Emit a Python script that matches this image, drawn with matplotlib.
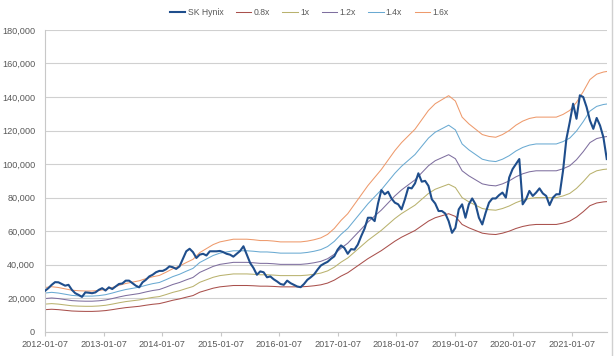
import matplotlib
matplotlib.use("Agg")
import matplotlib.pyplot as plt
from matplotlib.lines import Line2D
import numpy as np
import pandas as pd

plt.rcParams["font.family"] = ["Liberation Sans", "DejaVu Sans"]

# SK Hynix weekly close, sampled every 3 weeks from 2012-01-07 (KRW)
price_start = "2012-01-07"
price = [
    24400, 26000, 28000, 29600, 29500, 28500, 27500, 28000, 25000, 23000,
    22000, 20800, 23500, 23300, 23000, 23500, 25000, 26000, 24600, 26500,
    25500, 27000, 28500, 28800, 30500, 30500, 29000, 27500, 26500, 29500,
    31000, 33000, 34000, 35500, 36300, 36300, 37300, 39000, 38500, 37500,
    39000, 43500, 48000, 49500, 47500, 44000, 46000, 46500, 45500, 48000,
    48000, 48000, 48200, 47500, 46500, 46000, 44800, 46500, 48200, 51000,
    46000, 41000, 38000, 34000, 36000, 35500, 32500, 33000, 31300, 30000,
    28500, 28000, 30500, 29000, 28000, 27000, 26600, 28500, 31000, 32500,
    34200, 37000, 39500, 40700, 41700, 43500, 45000, 49000, 51500, 50000,
    46500, 49300, 49000, 52000, 57000, 61500, 68000, 68000, 66000, 76500,
    84500, 82000, 83500, 79500, 77000, 76000, 73000, 79000, 86000, 85500,
    88500, 94500, 89500, 90000, 87000, 79000, 76500, 72000, 72000, 70500,
    66000, 59000, 62000, 73000, 76000, 68000, 76000, 79500, 76000, 68000,
    64000, 71000, 77000, 79500, 79500, 81500, 83000, 80000, 92000, 97000,
    100000, 103000, 76000, 79000, 84000, 81000, 83000, 85500, 82500, 81000,
    75500, 80000, 82000, 82000, 96000, 115000, 125000, 136000, 127000, 141000,
    140000, 134000, 126000, 121000, 127500, 123000, 116000, 103000,
]

# book value per share used for the bands, every 6 weeks from 2012-01-07 (KRW)
bps = [
    16500, 16800, 16500, 16000, 15500, 15300, 15200, 15200, 15400, 15800,
    16500, 17300, 18000, 18500, 19000, 19800, 20500, 21000, 22200, 23500,
    24500, 25800, 27000, 29500, 31000, 32500, 33500, 34000, 34500, 34500,
    34500, 34300, 34000, 34000, 33800, 33500, 33500, 33500, 33500, 33800,
    34300, 35000, 36300, 38500, 41500, 44000, 47500, 51000, 54500, 57500,
    60500, 64000, 67500, 70500, 73000, 75500, 79000, 82500, 85000, 86500,
    88000, 86000, 80000, 77500, 75500, 73500, 72800, 72500, 73500, 75000,
    77000, 78500, 79500, 80000, 80000, 80000, 80000, 81000, 82500, 85500,
    89500, 94000, 96000, 96800, 97200,
]

multiples = [0.8, 1.0, 1.2, 1.4, 1.6]
band_labels = ["0.8x", "1x", "1.2x", "1.4x", "1.6x"]
band_colors = ["#a9504c", "#b9b26e", "#7f6f9f", "#6aaad2", "#ee9a6c"]

xtick_dates = [f"{y}-01-07" for y in range(2012, 2022)]
yticks = list(range(0, 180001, 20000))

price_dates = pd.date_range(price_start, periods=len(price), freq="21D")
bps_dates = pd.date_range(price_start, periods=len(bps), freq="42D")
bps_arr = np.array(bps, dtype=float)

fig = plt.figure(figsize=(6.16, 3.56), dpi=100)
ax = fig.add_axes([0.073, 0.068, 0.912, 0.848])

for m, lab, col in zip(multiples, band_labels, band_colors):
    ax.plot(bps_dates, bps_arr * m, color=col, lw=0.75, label=lab, zorder=2)
ax.plot(price_dates, price, color="#1f4e8c", lw=1.5, label="SK Hynix", zorder=3)

ax.set_ylim(0, 180000)
ax.set_xlim(pd.Timestamp("2012-01-07"), price_dates[-1])
ax.set_yticks(yticks)
ax.set_yticklabels([f"{v:,}" for v in yticks])
ax.set_xticks(pd.to_datetime(xtick_dates))
ax.set_xticklabels(xtick_dates)

ax.grid(True, axis="y", color="#d0d0d0", lw=0.8)
ax.set_axisbelow(True)
for s in ["top", "right"]:
    ax.spines[s].set_visible(False)
ax.spines["left"].set_color("#c8c8c8")
ax.spines["bottom"].set_color("#c8c8c8")
ax.tick_params(axis="y", length=0, labelsize=6.6, labelcolor="#595959", pad=7)
ax.tick_params(axis="x", length=3, color="#c8c8c8", labelsize=6.6, labelcolor="#595959", pad=3)

handles = [Line2D([], [], color="#1f4e8c", lw=1.5)] + [
    Line2D([], [], color=c, lw=0.75) for c in band_colors
]
fig.legend(handles, ["SK Hynix"] + band_labels, loc="upper center",
           bbox_to_anchor=(0.502, 1.0), ncol=6, frameon=False, fontsize=6.2,
           handlelength=1.8, columnspacing=1.45, handletextpad=0.25,
           labelcolor="#595959")

fig.add_artist(Line2D([0.994, 0.994], [0, 1], transform=fig.transFigure,
                      color="#d0d0d0", lw=1))

fig.savefig("out.png", dpi=100)
